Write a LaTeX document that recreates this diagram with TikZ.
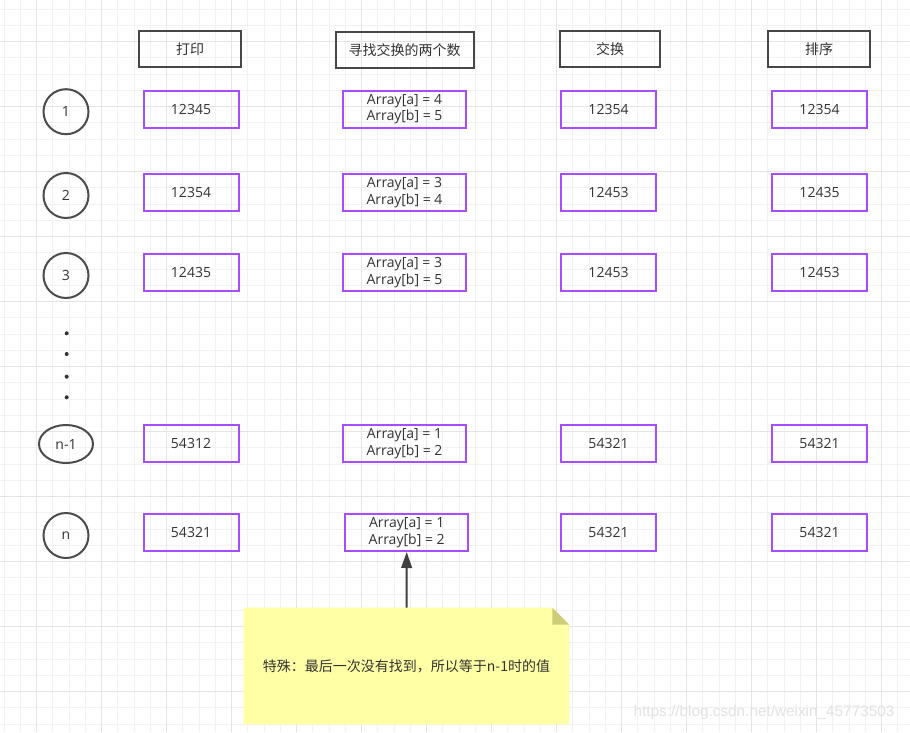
\documentclass[tikz,border=0pt]{standalone}
\usepackage{fontspec}
\setmainfont{Open Sans}
\newfontfamily\cjk{Noto Sans CJK SC}
\newfontfamily\wmfont{Liberation Sans}
\usetikzlibrary{arrows.meta, shapes.geometric}

\definecolor{boxpurple}{HTML}{A64DFF}
\definecolor{notefill}{HTML}{FFFFA6}
\definecolor{notefold}{HTML}{CDCD78}

\begin{document}
\begin{tikzpicture}[
        x=0.75pt, y=-0.75pt,
        every node/.style={font=\fontsize{10.5}{12.5}\selectfont, text=black!80, inner sep=0pt},
        gridminor/.style={draw=black!5, line width=0.75pt},
        gridmajor/.style={draw=black!10, line width=0.75pt},
        head/.style={draw=black!72, line width=1.5pt, minimum width=76.5pt, minimum height=27pt, font=\cjk\fontsize{10.5}{12.5}\selectfont},
        cell/.style={draw=boxpurple, line width=1.5pt, minimum width=71.25pt, minimum height=27.75pt, align=center},
        rowmark/.style={draw=black!70, line width=1.5pt, circle, minimum size=33.75pt},
        dot/.style={fill=black!80, circle, minimum size=3pt}
    ]
    \useasboundingbox (0,0) rectangle (910,732);
    \fill[white] (0,0) rectangle (910,732);

    % grid
    \foreach \x in {4.2,20.45,...,910} \draw[gridminor] (\x,0) -- (\x,732);
    \foreach \y in {9.2,25.45,...,732} \draw[gridminor] (0,\y) -- (910,\y);
    \foreach \x in {36.7,101.7,...,910} \draw[gridmajor] (\x,0) -- (\x,732);
    \foreach \y in {41.7,106.7,...,732} \draw[gridmajor] (0,\y) -- (910,\y);

    % column heads
    \node[head] (hprint) at (190,49) {打印};
    \node[head, minimum width=103.5pt] (hfind) at (404.5,50) {寻找交换的两个数};
    \node[head, minimum width=75pt] (hswap) at (610,49) {交换};
    \node[head] (hsort) at (819,49) {排序};

    % rows
    \foreach \y/\ax/\p/\a/\b/\s/\o [count=\i] in {
        109/404.5/12345/4/5/12354/12354,
        192.5/404.5/12354/3/4/12453/12435,
        272.5/404.5/12435/3/5/12453/12453,
        443.5/404.5/54312/1/2/54321/54321,
        532.5/406.7/54321/1/2/54321/54321}
    {
        \node[cell] (p\i) at (191,\y) {\p};
        \node[cell, minimum width=92.25pt] (f\i) at (\ax,\y) {Array[a] = \a\\Array[b] = \b};
        \node[cell] (s\i) at (608.5,\y) {\s};
        \node[cell] (o\i) at (819.5,\y) {\o};
    }

    % row numbers
    \node[rowmark] (r1) at (66,111.7) {1};
    \node[rowmark] (r2) at (66,195.5) {2};
    \node[rowmark] (r3) at (66,275.5) {3};
    \node[rowmark, ellipse, minimum width=40.5pt, minimum height=28.5pt] (r4) at (66,444) {n-1};
    \node[rowmark] (r5) at (66,535.5) {n};
    \foreach \y [count=\j] in {333.3,354,376.7,397.3}
        \node[dot] (d\j) at (66.7,\y) {};

    % note
    \node[minimum width=243.75pt, minimum height=87pt] (note) at (406.5,666) {};
    \fill[notefill] (note.north west) -- ([xshift=-12.75pt]note.north east) -- ([yshift=-12.75pt]note.north east) -- (note.south east) -- (note.south west) -- cycle;
    \fill[notefold] ([xshift=-12.75pt]note.north east) -- ([xshift=-12.75pt, yshift=-12.75pt]note.north east) -- ([yshift=-12.75pt]note.north east) -- cycle;
    \node[font=\cjk\fontsize{10.5}{12.5}\selectfont] (notetext) at (note.center) {特殊：最后一次没有找到，所以等于n-1时的值};
    \draw[draw=black!75, line width=1.5pt, -{Triangle[length=12pt, width=8pt]}] (note.north) -- (f5.south);

    \node[font=\wmfont\fontsize{11.5}{13}\selectfont, text=black!11] (wm) at (764,713) {https://blog.csdn.net/weixin\_45773503};
\end{tikzpicture}
\end{document}
